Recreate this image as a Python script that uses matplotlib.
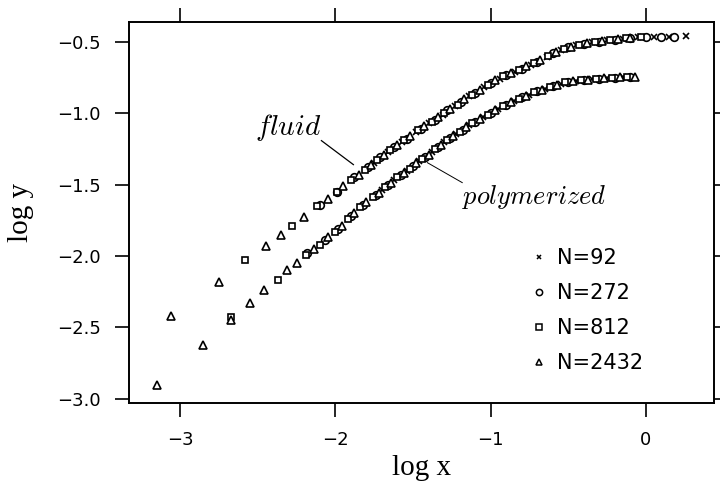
import matplotlib
matplotlib.use("Agg")
import matplotlib.pyplot as plt

plt.rcParams['font.family'] = ['DejaVu Sans']
plt.rcParams['mathtext.fontset'] = 'cm'

# series labels and markers
labels = ["N=92", "N=272", "N=812", "N=2432"]
markers = ["x", "o", "s", "^"]

# fluid branch (upper curve), log x / log y per system size
fluid_x = {
    "N=92": [-1.75, -1.66, -1.57, -1.48, -1.40, -1.31, -1.23, -1.14, -1.04, -0.94, -0.84,
             -0.74, -0.64, -0.55, -0.45, -0.35, -0.25, -0.15, -0.05, 0.05, 0.15, 0.26],
    "N=272": [-2.10, -1.99, -1.88, -1.79, -1.71, -1.62, -1.54, -1.45, -1.36, -1.28, -1.19,
              -1.10, -1.00, -0.90, -0.80, -0.70, -0.60, -0.50, -0.40, -0.30, -0.20, -0.10,
              0.00, 0.10, 0.18],
    "N=812": [-2.58, -2.28, -2.12, -1.99, -1.90, -1.81, -1.73, -1.65, -1.56, -1.47, -1.38,
              -1.30, -1.21, -1.12, -1.02, -0.92, -0.82, -0.72, -0.63, -0.53, -0.43, -0.33,
              -0.23, -0.13, -0.03],
    "N=2432": [-3.06, -2.75, -2.45, -2.35, -2.20, -2.05, -1.95, -1.85, -1.77, -1.69, -1.60,
               -1.52, -1.43, -1.34, -1.26, -1.17, -1.07, -0.97, -0.87, -0.77, -0.68, -0.58,
               -0.48, -0.38, -0.28, -0.18, -0.10],
}
fluid_y = {
    "N=92": [-1.35, -1.27, -1.20, -1.13, -1.07, -1.01, -0.95, -0.88, -0.82, -0.76, -0.71,
             -0.66, -0.61, -0.56, -0.525, -0.505, -0.49, -0.48, -0.47, -0.47, -0.47, -0.46],
    "N=272": [-1.64, -1.55, -1.45, -1.38, -1.31, -1.24, -1.18, -1.11, -1.05, -0.98, -0.92,
              -0.86, -0.79, -0.73, -0.69, -0.64, -0.58, -0.54, -0.515, -0.50, -0.485, -0.475,
              -0.47, -0.47, -0.47],
    "N=812": [-2.03, -1.79, -1.65, -1.55, -1.47, -1.40, -1.33, -1.26, -1.19, -1.12, -1.06,
              -1.00, -0.94, -0.87, -0.80, -0.74, -0.70, -0.65, -0.60, -0.55, -0.52, -0.50,
              -0.49, -0.475, -0.47],
    "N=2432": [-2.42, -2.18, -1.93, -1.85, -1.73, -1.60, -1.51, -1.43, -1.36, -1.29, -1.22,
               -1.16, -1.09, -1.03, -0.97, -0.90, -0.84, -0.77, -0.72, -0.67, -0.63, -0.57,
               -0.535, -0.51, -0.495, -0.48, -0.472],
}

# polymerized branch (lower curve)
poly_x = {
    "N=92": [-1.70, -1.62, -1.54, -1.46, -1.38, -1.30, -1.22, -1.14, -1.05, -0.95, -0.85,
             -0.75, -0.65, -0.55, -0.45, -0.35, -0.25, -0.15, -0.09],
    "N=272": [-2.18, -2.07, -1.98, -1.90, -1.82, -1.74, -1.66, -1.58, -1.50, -1.42, -1.34,
              -1.26, -1.18, -1.10, -1.00, -0.90, -0.80, -0.70, -0.60, -0.50, -0.40, -0.30,
              -0.20, -0.10],
    "N=812": [-2.67, -2.37, -2.19, -2.10, -2.00, -1.92, -1.84, -1.76, -1.68, -1.60, -1.52,
              -1.44, -1.36, -1.28, -1.20, -1.12, -1.02, -0.92, -0.82, -0.72, -0.62, -0.52,
              -0.42, -0.32, -0.22, -0.12],
    "N=2432": [-3.15, -2.85, -2.67, -2.55, -2.46, -2.31, -2.25, -2.14, -2.05, -1.96, -1.88,
               -1.80, -1.72, -1.64, -1.56, -1.48, -1.40, -1.32, -1.24, -1.16, -1.07, -0.97,
               -0.87, -0.77, -0.67, -0.57, -0.47, -0.37, -0.27, -0.17, -0.07],
}
poly_y = {
    "N=92": [-1.54, -1.47, -1.405, -1.335, -1.27, -1.205, -1.145, -1.085, -1.03, -0.97, -0.915,
             -0.87, -0.83, -0.795, -0.772, -0.762, -0.754, -0.75, -0.748],
    "N=272": [-1.98, -1.89, -1.81, -1.72, -1.64, -1.575, -1.505, -1.435, -1.37, -1.305, -1.24,
              -1.175, -1.115, -1.06, -1.00, -0.94, -0.89, -0.845, -0.81, -0.78, -0.768, -0.758,
              -0.752, -0.749],
    "N=812": [-2.43, -2.165, -1.99, -1.92, -1.83, -1.74, -1.66, -1.59, -1.52, -1.45, -1.39,
              -1.32, -1.25, -1.19, -1.13, -1.07, -1.01, -0.95, -0.90, -0.855, -0.815, -0.785,
              -0.77, -0.76, -0.752, -0.75],
    "N=2432": [-2.90, -2.62, -2.45, -2.33, -2.24, -2.10, -2.05, -1.95, -1.87, -1.79, -1.70,
               -1.62, -1.56, -1.49, -1.42, -1.35, -1.29, -1.22, -1.16, -1.10, -1.04, -0.98,
               -0.925, -0.88, -0.835, -0.80, -0.775, -0.765, -0.755, -0.75, -0.748],
}

xticks = [-3, -2, -1, 0]
yticks = [-3.0, -2.5, -2.0, -1.5, -1.0, -0.5]


def main():
    fig = plt.figure(figsize=(7.2, 4.84), dpi=100)
    ax = fig.add_axes([0.179, 0.167, 0.813, 0.788])

    sizes = {"x": 4.5, "o": 5.5, "s": 5, "^": 5.5}
    for lab, m in zip(labels, markers):
        for xs, ys in ((fluid_x, fluid_y), (poly_x, poly_y)):
            ax.plot(xs[lab], ys[lab], linestyle="none", marker=m, ms=sizes[m],
                    mfc="white", mec="black", mew=1.2)
        # legend proxy
        ax.plot([], [], linestyle="none", marker=m, ms=sizes[m] - 1,
                mfc="white", mec="black", mew=1.1, label=lab)

    ax.set_xlim(-3.33, 0.44)
    ax.set_ylim(-3.03, -0.36)
    ax.set_xticks(xticks)
    ax.set_yticks(yticks)
    ax.set_xticklabels(["\u22123", "\u22122", "\u22121", "0"])
    ax.set_yticklabels(["\u2212%.1f" % abs(v) for v in yticks])
    ax.tick_params(axis="both", direction="out", length=10, width=1.2,
                   labelsize=13, top=True, right=True)
    ax.tick_params(axis="x", pad=10)
    ax.tick_params(axis="y", pad=10)
    for sp in ax.spines.values():
        sp.set_linewidth(1.4)

    ax.set_xlabel("log x", family="Liberation Serif", fontsize=21, labelpad=4)
    ax.set_ylabel("log y", family="Liberation Serif", fontsize=21, labelpad=17)

    # branch annotations
    ax.text(-2.30, -1.10, r"$\mathit{fluid}$", fontsize=21, ha="center", va="center")
    ax.plot([-2.09, -1.884], [-1.192, -1.36], color="black", lw=0.9)
    ax.text(-0.72, -1.59, r"$\mathit{polymerized}$", fontsize=19, ha="center", va="center")
    ax.plot([-1.408, -1.183], [-1.346, -1.486], color="black", lw=0.7)

    ax.legend(loc="upper left", bbox_to_anchor=(0.65, 0.456), frameon=False,
              fontsize=15, handletextpad=0.4, labelspacing=0.72, handlelength=1.0,
              borderpad=0.4)

    fig.savefig("out.png", dpi=100)


if __name__ == "__main__":
    main()
